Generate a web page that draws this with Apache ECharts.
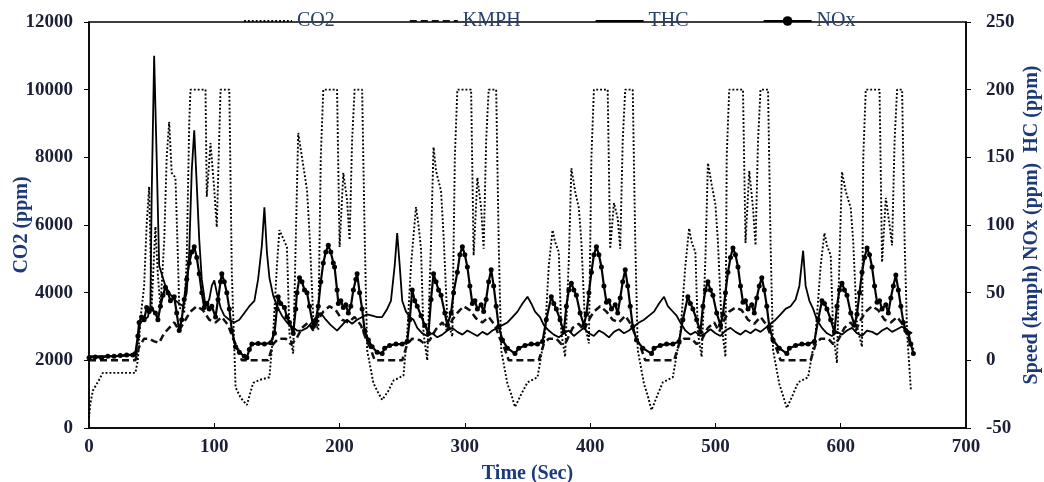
<!DOCTYPE html>
<html>
<head>
<meta charset="utf-8">
<title>CO2 / KMPH / THC / NOx vs time</title>
<script src="https://cdn.jsdelivr.net/npm/echarts@6/dist/echarts.min.js"></script>
<style>
  html, body { margin: 0; padding: 0; background: #fff; }
  #chart { width: 1044px; height: 482px; }
</style>
</head>
<body>
<div id="chart"></div>
<script>
// [time (s), value] pairs
const co2 = [
  [0,300],[1,700],[3,1100],[8,1420],[11,1630],[37,1630],[39,2000],[41,3200],[44,4200],[46,6000],[48,7130],[50,3580],[53,5950],[55,4500],[57,3580],[60,5500],[62,8000],[64,9050],[66,7540],[69,7400],[71,5000],[72,3580],[76,3400],[78,5000],[80,9000],[81,10000],[93,10000],[94,6830],[97,8420],[100,7040],[102,5940],[105,10000],[112,10000],[114,4580],[117,1200],[121,900],[126,680],
  [131,1330],[136,1420],[144,1500],[147,2800],[150,4800],[152,5850],[155,5600],[158,5350],[160,2800],[163,2200],[165,5500],[167,8720],[170,8000],[174,7040],[176,5760],[179,3280],[183,2900],[185,8000],[187,10000],[198,10000],[200,5350],[203,7540],[206,6740],[208,5560],[210,8500],[212,10000],[218,10000],[220,5760],[222,2300],[227,1330],[230,1100],[234,830],
  [239,1100],[243,1400],[251,1550],[254,2800],[257,4800],[261,6530],[263,6000],[265,5300],[267,2800],[270,2000],[273,5500],[275,8300],[277,7600],[281,7000],[283,5700],[286,3200],[290,2700],[292,8000],[294,10000],[305,10000],[307,5100],[310,7400],[313,6500],[315,5300],[317,8500],[319,10000],[325,10000],[327,5500],[329,2300],[334,1300],[337,1000],[340,620],
  [345,1000],[350,1350],[358,1500],[364,2800],[367,4800],[370,5850],[372,5500],[375,5200],[377,2800],[380,2100],[383,5000],[385,7680],[388,7000],[391,6500],[393,5500],[396,3000],[399,2500],[401,8000],[403,10000],[414,10000],[416,5300],[419,6650],[422,6200],[424,5300],[426,8500],[428,10000],[434,10000],[436,5500],[438,2300],[443,1300],[446,950],[449,530],
  [454,1000],[458,1350],[466,1500],[472,2800],[476,4800],[479,5900],[481,5500],[484,5200],[486,2800],[489,2100],[492,5000],[494,7830],[497,7200],[500,6600],[502,5500],[505,3000],[508,2100],[509,8000],[511,10000],[522,10000],[524,5470],[527,7600],[530,6500],[532,5400],[534,8500],[536,10000],[542,10000],[544,5500],[546,2300],[551,1300],[554,950],[557,590],
  [562,1000],[566,1350],[574,1500],[580,2800],[584,4800],[587,5760],[589,5400],[592,5100],[594,2800],[597,1920],[599,5000],[601,7570],[604,7000],[608,6500],[610,5500],[613,3000],[617,2400],[618,8000],[620,10000],[631,10000],[633,4900],[636,6800],[639,6000],[641,5400],[643,8500],[645,10000],[649,10000],[651,5500],[653,2800],[656,1120]
];

const kmph = [
  [0,0],[37,0],[40,10],[44,16],[48,16],[52,14],[56,13],[60,20],[64,24],[68,28],[72,22],[77,30],[81,36],[86,40],[91,37],[96,30],[101,28],[106,32],[111,26],[115,16],[119,8],[122,0],
  [143,0],[147,12],[151,16],[157,16],[161,12],[165,15],[170,24],[175,28],[179,22],[183,30],[187,36],[192,40],[197,37],[202,30],[207,28],[212,32],[217,26],[221,16],[225,8],[228,0],
  [250,0],[254,12],[258,16],[264,15],[268,12],[272,15],[277,23],[282,28],[286,22],[290,30],[294,35],[299,40],[304,37],[309,31],[314,28],[319,32],[324,26],[328,16],[332,8],[335,0],
  [359,0],[363,12],[367,16],[373,16],[377,12],[381,14],[386,24],[391,27],[395,22],[399,30],[403,36],[408,40],[413,36],[418,30],[423,28],[428,33],[433,26],[437,16],[441,8],[444,0],
  [467,0],[471,12],[475,16],[481,16],[485,12],[489,15],[494,24],[499,28],[503,21],[507,30],[511,36],[516,39],[521,37],[526,30],[531,27],[536,32],[541,26],[545,16],[549,8],[552,0],
  [576,0],[580,12],[584,16],[590,16],[594,12],[598,15],[603,24],[608,28],[612,22],[616,30],[620,36],[625,40],[630,37],[635,30],[640,28],[645,32],[650,26],[654,16],[658,8]
];

const thc = [
  [0,3],[10,3],[20,3],[30,3.5],[37,4],[39,15],[41,28],[44,30],[47,32],[49,40],[50,120],[52,225],[54,150],[56,70],[58,64],[61,55],[64,50],[68,45],[72,42],[75,40],[78,50],[80,80],[82,140],[84,170],[86,130],[88,89],[90,60],[93,40],[96,45],[98,55],[100,59],[102,50],[105,39],[108,33],[112,30],[116,28],[120,30],[124,35],[128,40],[132,44],[135,60],[138,85],[140,113],[142,80],[144,61],[147,48],[150,40],[154,33],
  [158,28],[162,25],[166,22],[170,22],[174,24],[178,28],[182,32],[185,35],[189,30],[193,26],[198,22],[202,26],[206,30],[210,27],[214,30],[218,32],[222,34],[226,33],[230,32],[234,32],[238,38],[241,44],[244,70],[246,94],[248,70],[250,44],[253,36],[256,32],[259,30],
  [262,24],[266,20],[270,18],[274,20],[278,17],[282,19],[286,22],[290,24],[294,21],[298,19],[302,22],[306,20],[310,18],[314,21],[318,19],[322,22],[326,24],[330,26],[334,28],[338,32],[342,36],[346,42],[350,47],[353,42],[356,36],[360,32],[363,26],
  [367,22],[371,19],[375,17],[379,20],[383,22],[387,18],[391,21],[395,24],[399,20],[403,18],[407,22],[411,20],[415,17],[419,21],[423,23],[427,20],[431,22],[435,25],[439,28],[443,30],[447,33],[451,36],[455,42],[459,47],[462,40],[465,37],[469,33],[472,28],
  [476,22],[480,19],[484,21],[488,18],[492,20],[496,23],[500,20],[504,18],[508,22],[512,24],[516,21],[520,19],[524,22],[528,20],[532,23],[536,21],[540,24],[544,27],[548,30],[552,34],[556,38],[560,40],[564,45],[567,55],[570,81],[572,55],[575,44],[578,38],[581,30],
  [585,24],[589,20],[593,18],[597,21],[601,19],[605,22],[609,24],[613,20],[617,18],[621,22],[625,21],[629,19],[633,22],[637,24],[641,21],[645,23],[649,25],[653,22],[657,20]
];

const nox = [
  [0,2],[5,2.5],[10,2],[15,3],[20,3],[25,3.5],[30,4],[35,4],[37,5],[39,18],[40,28],[42,32],[44,30],[46,39],[48,36],[50,38],[53,35],[55,30],[57,40],[59,48],[61,54],[63,50],[65,44],[68,47],[70,35],[72,22],[74,30],[76,45],[78,60],[80,72],[82,80],[84,84],[86,76],[88,64],[90,50],[92,39],[94,42],[96,38],[98,40],[101,32],[103,45],[105,58],[106,64],[108,58],[110,50],[112,38],[114,22],[117,10],[120,6],[124,3],[126,2],
  [128,8],[130,12],[135,12.5],[140,12],[145,13],[148,20],[150,38],[151,47],[153,42],[156,39],[158,32],[160,28],[163,20],[165,38],[166,50],[168,61],[170,58],[172,52],[174,50],[176,40],[179,25],[181,30],[183,40],[185,58],[187,72],[189,80],[191,85],[193,80],[195,72],[196,69],[198,52],[199,42],[201,44],[203,39],[205,41],[207,35],[209,40],[211,52],[213,60],[214,64],[216,50],[218,38],[220,22],[223,15],[226,10],[230,6],[234,5],
  [236,9],[240,11],[245,12],[250,12],[254,14],[256,30],[258,52],[260,44],[262,40],[265,33],[268,26],[271,20],[273,45],[275,64],[277,58],[279,52],[281,48],[284,35],[286,26],[289,35],[291,50],[294,65],[296,78],[298,84],[300,78],[302,69],[304,55],[306,42],[308,44],[310,38],[313,41],[315,36],[317,45],[319,58],[321,67],[323,55],[325,40],[327,25],[330,15],[334,9],[340,5],
  [343,9],[348,11],[353,12],[358,12],[362,14],[365,30],[369,47],[371,42],[373,38],[376,30],[379,21],[381,40],[383,52],[385,57],[387,52],[389,48],[392,35],[395,26],[397,34],[399,50],[401,65],[403,78],[405,84],[407,78],[409,69],[411,55],[413,43],[415,44],[417,38],[420,41],[422,35],[424,46],[426,58],[428,67],[430,55],[432,40],[434,25],[437,15],[442,9],[449,5],
  [451,9],[456,11],[461,12],[466,12],[471,14],[474,30],[478,47],[480,42],[482,38],[485,30],[488,21],[490,40],[492,52],[494,58],[496,52],[498,48],[501,35],[504,26],[506,34],[508,50],[510,65],[512,76],[514,83],[516,78],[518,69],[520,55],[522,43],[524,44],[526,38],[529,41],[531,35],[533,46],[535,55],[537,61],[539,52],[541,40],[543,25],[546,15],[551,9],[557,5],
  [559,9],[564,11],[569,12],[574,12],[579,14],[582,30],[585,44],[587,42],[589,38],[592,30],[595,21],[597,40],[599,52],[601,57],[603,52],[605,48],[608,35],[611,26],[613,34],[615,50],[617,65],[619,76],[621,83],[623,78],[625,69],[627,55],[629,43],[631,44],[633,38],[636,41],[638,35],[640,46],[642,55],[644,63],[646,52],[648,40],[650,28],[652,22],[654,20],[656,12],[658,5]
];

const seriesNames = ['CO2', 'KMPH', 'THC', 'NOx'];

const serif = '"Liberation Serif", "Times New Roman", serif';
const tickText = { fontFamily: serif, fontWeight: 'bold', fontSize: 19, color: '#1a1f36' };
const nameText = { fontFamily: serif, fontWeight: 'bold', fontSize: 20, color: '#1c3a78' };
const blackLine = { show: true, lineStyle: { color: '#000', width: 1.5 } };
const plain = v => String(v);   // no thousands separator

// only NOx has a marker in the legend
const legendData = seriesNames.map(n => n === 'NOx' ? { name: n } : { name: n, itemStyle: { opacity: 0 } });

const chart = echarts.init(document.getElementById('chart'));

chart.setOption({
  animation: false,
  backgroundColor: '#fff',
  grid: {
    left: 89, right: 78, top: 22, bottom: 54,
    containLabel: false,
    outerBoundsMode: 'none',
    show: true, borderColor: '#000', borderWidth: 1.5
  },
  legend: {
    data: legendData,
    top: 6,
    left: 238,
    itemGap: 74,
    itemWidth: 48,
    itemHeight: 12,
    textStyle: { fontFamily: serif, fontSize: 20, color: '#26406b' }
  },
  xAxis: {
    type: 'value',
    min: 0, max: 700, interval: 100,
    name: 'Time (Sec)',
    nameLocation: 'middle',
    nameGap: 36,
    nameTextStyle: nameText,
    axisLine: blackLine,
    axisTick: { show: true, inside: true, length: 5, lineStyle: { color: '#000' } },
    axisLabel: Object.assign({ margin: 10, formatter: plain }, tickText),
    splitLine: { show: false }
  },
  yAxis: [
    {
      type: 'value',
      min: 0, max: 12000, interval: 2000,
      name: 'CO2 (ppm)',
      nameLocation: 'middle',
      nameGap: 57,
      nameMoveOverlap: false,
      nameTextStyle: nameText,
      axisLine: blackLine,
      axisTick: { show: true, length: 5, lineStyle: { color: '#000' } },
      axisLabel: Object.assign({ margin: 16, formatter: plain }, tickText),
      splitLine: { show: false }
    },
    {
      type: 'value',
      position: 'right',
      min: -50, max: 250, interval: 50,
      name: 'Speed (kmph) NOx (ppm)  HC (ppm)',
      nameLocation: 'middle',
      nameGap: 56,
      nameMoveOverlap: false,
      nameTextStyle: nameText,
      axisLine: blackLine,
      axisTick: { show: true, length: 5, lineStyle: { color: '#000' } },
      axisLabel: Object.assign({ margin: 20, formatter: plain }, tickText),
      splitLine: { show: false }
    }
  ],
  series: [
    {
      name: 'CO2', type: 'line', yAxisIndex: 0, data: co2,
      symbol: 'none',
      lineStyle: { color: '#000', width: 1.9, type: [1.9, 2] },
      itemStyle: { color: '#000' },
      z: 1
    },
    {
      name: 'KMPH', type: 'line', yAxisIndex: 1, data: kmph,
      symbol: 'none',
      lineStyle: { color: '#111', width: 2.5, type: [7, 4] },
      itemStyle: { color: '#111' },
      z: 2
    },
    {
      name: 'THC', type: 'line', yAxisIndex: 1, data: thc,
      symbol: 'none',
      lineStyle: { color: '#000', width: 1.8 },
      itemStyle: { color: '#000' },
      z: 3
    },
    {
      name: 'NOx', type: 'line', yAxisIndex: 1, data: nox,
      symbol: 'circle', symbolSize: 5, showSymbol: true,
      lineStyle: { color: '#000', width: 2.2 },
      itemStyle: { color: '#000' },
      z: 4
    }
  ]
});
</script>
</body>
</html>
